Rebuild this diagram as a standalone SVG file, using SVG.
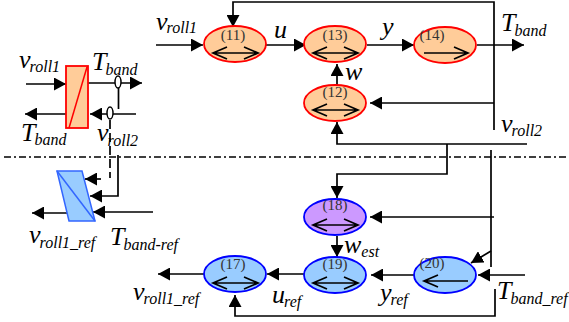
<svg xmlns="http://www.w3.org/2000/svg" width="569" height="322" viewBox="0 0 569 322">
<style>
text{font-family:"Liberation Serif","Times New Roman",serif;fill:#000}
.l{font-size:26px;font-style:italic}
.l tspan{font-size:16px}
.n{font-size:15px;fill:#333;text-anchor:middle}
.c{fill:none;stroke:#000;stroke-width:1.7}
.a{marker-end:url(#h)}
.o{fill:#FFCC99;stroke:#F00;stroke-width:1.8}
.b{fill:#99CCFF;stroke:#00F;stroke-width:1.8}
.p{fill:#CC99FF;stroke:#00F;stroke-width:1.8}
.i{fill:none;stroke:#000;stroke-width:1.7}
</style>
<defs>
<marker id="h" markerUnits="userSpaceOnUse" markerWidth="13" markerHeight="13" refX="12" refY="6.500" orient="auto"><path d="M0 0L12 6.500L0 13Z" fill="#000"/></marker>
<path id="d" d="M213 53H258M227 47L213 53L227 59M244 47L258 53L244 59" class="i"/>
</defs>
<g id="connectors">
<path class="c" style="stroke-width:1.300" stroke-dasharray="7 3 2 3" d="M4 157H569"/>
<path class="c a" d="M26 84H66"/><path class="c a" d="M88 83H142"/>
<path class="c" d="M118.500 88V109"/><path class="c a" d="M136 114H90"/><path class="c a" d="M66 114H25"/>
<path class="c" stroke-dasharray="9 4" d="M110 120V178"/>
<path class="c a" d="M101 179H85"/>
<path class="c a" d="M118 155V196H90"/>
<path class="c a" d="M153 212H93"/><path class="c a" d="M67 213H32"/>
<path class="c a" d="M156 45H203"/><path class="c a" d="M266 45H306"/><path class="c a" d="M367 45H414"/><path class="c a" d="M477 45H524"/>
<path class="c a" d="M494 130V2H233V27"/>
<path class="c a" d="M494 103H370"/>
<path class="c a" d="M337 85V64"/>
<path class="c a" d="M527 144H337V122"/>
<path class="c a" d="M447 144V174H337V198"/>
<path class="c a" d="M337 236V257"/>
<path class="c" d="M491 150V267"/>
<path class="c a" d="M494 217H370"/>
<path class="c a" d="M491 251L471 263"/>
<path class="c a" d="M525 275H478"/><path class="c a" d="M414 275H371"/><path class="c a" d="M305 274H267"/><path class="c a" d="M204 274H158"/>
<path class="c a" d="M495 289V316H235V295"/>
</g>
<g id="block-top"><rect x="66" y="66" width="22" height="62" class="o"/><path d="M69 128L87 67" fill="none" stroke="#F00" stroke-width="1.500"/><ellipse cx="118" cy="82" rx="3" ry="6" fill="#fff" stroke="#000" stroke-width="1.500"/><ellipse cx="110" cy="113" rx="3" ry="6" fill="#fff" stroke="#000" stroke-width="1.500"/></g>
<g id="block-bottom"><path d="M57 171H82L95 221H69Z" fill="#99CCFF" stroke="#3366FF" stroke-width="1.500"/><path d="M57 171L95 221" fill="none" stroke="#3366FF" stroke-width="1.500"/></g>
<g id="n11"><ellipse cx="235" cy="44" rx="31" ry="18" class="o"/><text class="n" x="233" y="40">(11)</text><use href="#d"/></g>
<g id="n13"><ellipse cx="335" cy="44" rx="31" ry="18" class="o"/><text class="n" x="335" y="40">(13)</text><use href="#d" x="100"/></g>
<g id="n14"><ellipse cx="445" cy="45" rx="31" ry="18" class="o"/><text class="n" x="432" y="40">(14)</text><path class="i" d="M424 53H468M454 47L468 53L454 59"/></g>
<g id="n12"><ellipse cx="335" cy="103" rx="31" ry="18" class="o"/><text class="n" x="335" y="97">(12)</text><use href="#d" x="100" y="57"/></g>
<g id="n18"><ellipse cx="335" cy="217" rx="31" ry="18" class="p"/><text class="n" x="335" y="210">(18)</text><use href="#d" x="100" y="172"/></g>
<g id="n19"><ellipse cx="335" cy="275" rx="31" ry="18" class="b"/><text class="n" x="335" y="269">(19)</text><use href="#d" x="100" y="230"/></g>
<g id="n17"><ellipse cx="235" cy="274" rx="31" ry="18" class="b"/><text class="n" x="233" y="269">(17)</text><use href="#d" y="230"/></g>
<g id="n20"><ellipse cx="445" cy="275" rx="31" ry="18" class="b"/><text class="n" x="432" y="268">(20)</text><path class="i" d="M468 281H424M438 275L424 281L438 287"/></g>
<g id="labels">
<text class="l" x="19" y="68">v<tspan dy="4" dx="-1">roll1</tspan></text>
<text class="l" x="92" y="70">T<tspan dy="5" dx="-1">band</tspan></text>
<text class="l" x="21" y="141">T<tspan dy="4" dx="-1">band</tspan></text>
<text class="l" x="97" y="141">v<tspan dy="5" dx="-1">roll2</tspan></text>
<text class="l" x="29" y="243">v<tspan dy="5" dx="-1">roll1_ref</tspan></text>
<text class="l" x="110" y="245">T<tspan dy="5" dx="-1">band-ref</tspan></text>
<text class="l" x="156" y="30">v<tspan dy="3" dx="-1">roll1</tspan></text>
<text class="l" x="274" y="38">u</text>
<text class="l" x="382" y="35">y</text>
<text class="l" x="345" y="80">w</text>
<text class="l" x="344" y="253">w<tspan dy="4">est</tspan></text>
<text class="l" x="501" y="31">T<tspan dy="5" dx="-1">band</tspan></text>
<text class="l" x="501" y="132">v<tspan dy="4" dx="-1">roll2</tspan></text>
<text class="l" x="133" y="300">v<tspan dy="4" dx="-1">roll1_ref</tspan></text>
<text class="l" x="272" y="303">u<tspan dy="4" dx="-1">ref</tspan></text>
<text class="l" x="380" y="301">y<tspan dy="4" dx="-1">ref</tspan></text>
<text class="l" x="497" y="299">T<tspan dy="5" dx="-1">band_ref</tspan></text>
</g>
</svg>
